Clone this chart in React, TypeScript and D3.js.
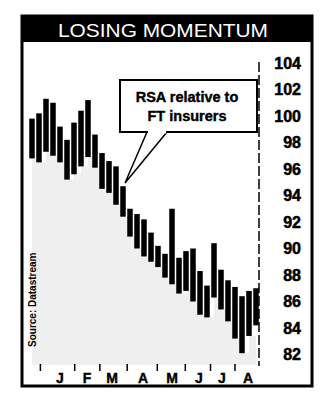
import React from "react";
import * as d3 from "d3";

const weeks = d3.range(33);
const highs = [99.8, 100.2, 101.3, 101.0, 99.2, 98.2, 99.5, 100.4, 101.2, 98.6, 97.2, 96.6, 96.2, 94.7, 93.0, 92.6, 92.2, 91.2, 90.2, 89.6, 93.0, 89.3, 89.8, 90.0, 88.3, 87.2, 90.4, 88.4, 87.6, 87.1, 86.4, 86.8, 87.0];
const lows = [96.8, 96.5, 97.3, 97.0, 96.5, 95.2, 95.6, 96.2, 96.9, 96.1, 94.5, 94.2, 93.3, 92.4, 90.9, 90.0, 89.4, 89.0, 88.6, 87.8, 87.3, 86.6, 86.8, 86.0, 85.0, 84.8, 86.3, 85.4, 84.5, 83.2, 82.1, 83.4, 84.2];
const yTicks = [104, 102, 100, 98, 96, 94, 92, 90, 88, 86, 84, 82];
const monthLabels = ["J", "F", "M", "A", "M", "J", "J", "A"];
const monthPos = [4, 7.86, 11.43, 15.86, 20, 23.86, 27.14, 30.86];
const monthBounds = [1.2, 6.1, 9.7, 13.6, 17.9, 21.9, 25.5, 29.0];

export default function App() {
  const W = 334, H = 404;
  const x = d3.scaleLinear().domain([0, 32]).range([32, 256]);
  const y = d3.scaleLinear().domain([82, 104]).range([354.5, 63]);
  const area = d3.area<number>()
    .x((i) => x(i))
    .y0(365)
    .y1((i) => y(lows[i]))
    .curve(d3.curveStepAfter);
  const font = "'Liberation Sans', Arial, sans-serif";
  return (
    <svg width={W} height={H} style={{ position: "absolute", left: 0, top: 0, background: "#fff" }}>
      <rect x={0} y={0} width={W} height={H} fill="#fff" />
      {/* frame */}
      <rect x={22} y={16} width={290} height={370} fill="none" stroke="#000" strokeWidth={3} />
      <rect x={22} y={16} width={290} height={26} fill="#000" />
      <text x={163} y={37} fill="#fff" fontFamily={font} fontSize={18} textAnchor="middle" textLength={210} lengthAdjust="spacingAndGlyphs">LOSING MOMENTUM</text>
      {/* area shading */}
      <path d={area(weeks) || ""} fill="#efefef" />
      {/* right axis line */}
      <line x1={259} x2={259} y1={62} y2={366} stroke="#000" strokeWidth={1.5} strokeDasharray="10 3" />
      {/* bars */}
      {weeks.map((i) => (
        <rect key={i} x={x(i) - 2.75} y={y(highs[i])} width={5.5} height={y(lows[i]) - y(highs[i])} fill="#000" />
      ))}
      {/* y labels */}
      {yTicks.map((v) => (
        <text key={v} x={301} y={y(v) + 5.5} textAnchor="end" fontFamily={font} fontWeight="bold" fontSize={16} fill="#000" stroke="#000" strokeWidth={0.5}>{v}</text>
      ))}
      {/* month ticks and labels */}
      {monthBounds.map((m, k) => (
        <line key={"b" + k} x1={x(m)} x2={x(m)} y1={364} y2={371} stroke="#000" strokeWidth={1.5} />
      ))}
      {monthLabels.map((m, k) => (
        <text key={"m" + k} x={x(monthPos[k])} y={383} textAnchor="middle" fontFamily={font} fontWeight="bold" fontSize={14} fill="#000" stroke="#000" strokeWidth={0.4}>{m}</text>
      ))}
      {/* callout */}
      <path d="M147,132 L125,183 L167,132" fill="#fff" stroke="#000" strokeWidth={1.5} />
      <rect x={120} y={80} width={137} height={52} fill="#fff" stroke="#000" strokeWidth={2} />
      <line x1={148} x2={166} y1={132} y2={132} stroke="#fff" strokeWidth={3} />
      <text x={187} y={102} textAnchor="middle" fontFamily={font} fontWeight="bold" fontSize={14.5} fill="#000" stroke="#000" strokeWidth={0.4}>RSA relative to</text>
      <text x={187} y={121} textAnchor="middle" fontFamily={font} fontWeight="bold" fontSize={14.5} fill="#000" stroke="#000" strokeWidth={0.4}>FT insurers</text>
      {/* source */}
      <text transform="translate(36,347) rotate(-90)" fontFamily={font} fontWeight="bold" fontSize={10} fill="#000">Source: Datastream</text>
    </svg>
  );
}
